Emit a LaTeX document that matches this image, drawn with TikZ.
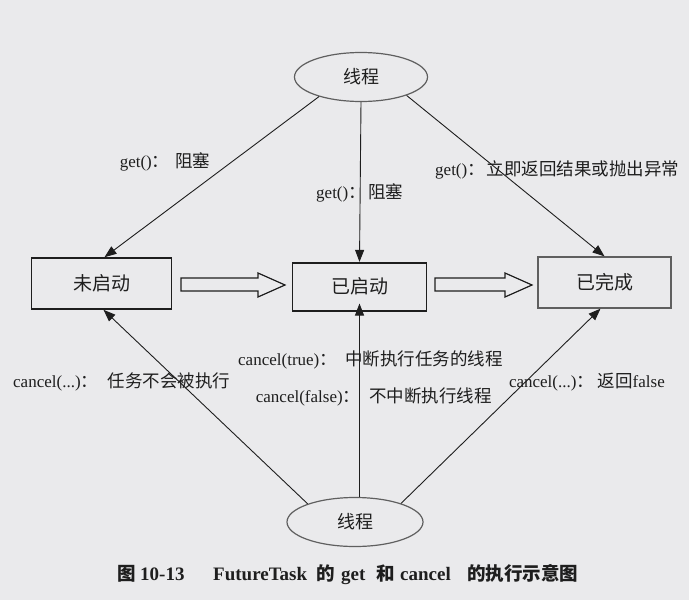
\documentclass[tikz,border=0pt]{standalone}
\usepackage{fontspec}
\setmainfont{Liberation Serif}
\newfontfamily\cjk{Noto Sans CJK SC}
\usetikzlibrary{shapes.geometric,arrows.meta}
\newcommand\zh[1]{{\cjk\fontsize{17.5}{17.5}\selectfont #1}}
\newcommand\zc[1]{{\cjk\fontsize{18.5}{18.5}\selectfont #1}}
% latin part, distance from label start to the CJK start, CJK part
\newcommand\lb[3]{\makebox[#2][l]{#1\zh{：}}\zh{#3}}
\newcommand\cw[2]{\makebox[#1][l]{#2}}
\definecolor{paper}{RGB}{234,234,236}
\definecolor{ink}{RGB}{30,30,30}
\definecolor{soft}{RGB}{95,95,95}
\begin{document}
\begin{tikzpicture}[x=1pt,y=-1pt,
  box/.style={draw=ink, line width=1.6pt, inner sep=0pt, text=ink,
    font=\fontsize{19}{19}\cjk},
  oval/.style={ellipse, draw=soft, line width=1.2pt, inner sep=0pt, text=ink,
    font=\fontsize{18}{18}\cjk},
  conn/.style={draw=ink, line width=0.9pt, -{Triangle[length=12pt,width=9pt]}},
  fat/.style={draw=ink, line width=1.2pt, line join=miter},
  lbl/.style={anchor=west, inner sep=0pt, text=ink, font=\fontsize{17}{17}\selectfont},
  captext/.style={anchor=west, inner sep=0pt, text=ink, font=\fontsize{19}{19}\bfseries}]
\fill[paper] (0,0) rectangle (689,600);
\useasboundingbox (0,0) rectangle (689,600);

\node[oval, minimum width=133pt, minimum height=49pt] (e1) at (361,77) {线程};
\node[oval, minimum width=136pt, minimum height=49pt] (e2) at (355,522) {线程};

\node[box, minimum width=140pt, minimum height=51pt] (b1) at (101.5,283.5) {未启动};
\node[box, minimum width=134pt, minimum height=48pt] (b2) at (359.5,286.7) {已启动};
\node[box, draw=soft, line width=1.3pt, minimum width=133pt, minimum height=51pt] (b3) at (604.5,282.5) {已完成};

% hollow arrows
\draw[fat] (181,278) -- (258,278) -- (258,273) -- (285,285) -- (258,297) -- (258,291) -- (181,291) -- cycle;
\draw[fat] (435,278) -- (505,278) -- (505,273) -- (532,285) -- (505,297) -- (505,291) -- (435,291) -- cycle;

% connectors from top
\draw[conn] (e1.205) -- ([xshift=3pt]b1.north);
\draw[conn] (e1.south) -- (b2.north);
\draw[conn] (e1.338) -- (b3.north);
% connectors from bottom
\draw[conn] (e2.159) -- ([xshift=2pt]b1.south);
\draw[conn] (b2.south |- e2.north) -- ([yshift=8pt]b2.south);
\draw[conn] (e2.22) -- ([xshift=-4pt]b3.south);

% labels
\node[lbl] (l1) at (119.6,162) {\lb{get()}{55.4pt}{阻塞}};
\node[lbl] (l2) at (316,193) {\lb{get()}{52pt}{阻塞}};
\node[lbl] (l3) at (435,170) {\lb{get()}{51.7pt}{立即返回结果或抛出异常}};
\node[lbl] (l4) at (238,360) {\lb{cancel(true)}{107pt}{中断执行任务的线程}};
\node[lbl] (l5) at (13,382) {\lb{cancel(...)}{94.6pt}{任务不会被执行}};
\node[lbl] (l6) at (255.7,397) {\lb{cancel(false)}{113.3pt}{不中断执行线程}};
\node[lbl] (l7) at (508.8,382) {\lb{cancel(...)}{88.7pt}{返回}false};

\node[captext] (c) at (117,575) {\cw{23pt}{\zc{图}}\cw{73pt}{10-13}\cw{103pt}{FutureTask}\cw{25pt}{\zc{的}}\cw{35pt}{get}\cw{24pt}{\zc{和}}\cw{67pt}{cancel}\zc{的执行示意图}};
\end{tikzpicture}
\end{document}
